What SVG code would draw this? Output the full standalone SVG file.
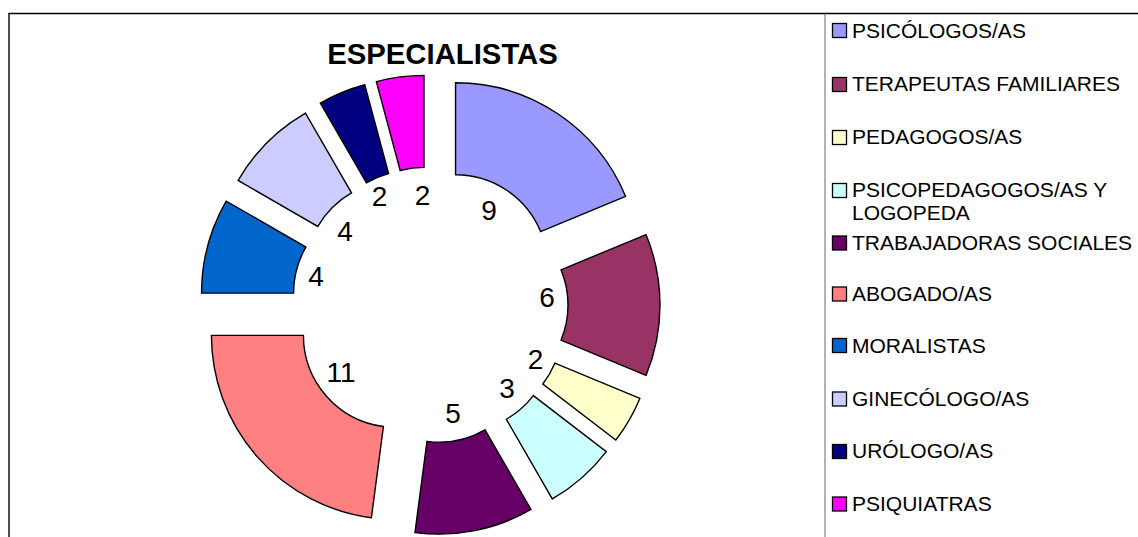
<svg xmlns="http://www.w3.org/2000/svg" width="1138" height="537" viewBox="0 0 1138 537">
<style>
.sl{stroke:#000;stroke-width:1.4;stroke-linejoin:miter}
.lab{font-family:"Liberation Sans",Arial,sans-serif;font-size:28px;fill:#000;text-anchor:middle}
.leg{font-family:"Liberation Sans",Arial,sans-serif;font-size:21px;fill:#000}
.sw{stroke:#000;stroke-width:1.3}
.ttl{font-family:"Liberation Sans",Arial,sans-serif;font-size:29.3px;font-weight:bold;fill:#000;text-anchor:middle}
</style>
<rect x="0" y="0" width="1138" height="537" fill="#fff"/>
<g id="frame" fill="none">
<line x1="8.5" y1="13.5" x2="1138" y2="13.5" stroke="#000" stroke-width="1.3"/>
<line x1="9" y1="13" x2="9" y2="537" stroke="#222" stroke-width="1.6"/>
<line x1="825" y1="14" x2="825" y2="537" stroke="#808080" stroke-width="1.2"/>
</g>
<text id="title" class="ttl" x="442.5" y="64">ESPECIALISTAS</text>
<g id="slices">
<g id="s-psicologos"><path class="sl" fill="#9999FF" d="M455.56 82.75 A184 184 0 0 1 625.55 196.34 L540.56 231.54 A92 92 0 0 0 455.56 174.75 Z"/></g>
<g id="s-terapeutas"><path class="sl" fill="#993366" d="M646.0 234.59 A184 184 0 0 1 646.0 375.41 L561.0 340.21 A92 92 0 0 0 561.0 269.79 Z"/></g>
<g id="s-pedagogos"><path class="sl" fill="#FFFFCC" d="M639.84 398.41 A184 184 0 0 1 615.82 440.01 L542.83 384.01 A92 92 0 0 0 554.84 363.21 Z"/></g>
<g id="s-psicopedagogos"><path class="sl" fill="#CCFFFF" d="M606.31 451.59 A184 184 0 0 1 552.33 498.93 L506.33 419.25 A92 92 0 0 0 533.32 395.59 Z"/></g>
<g id="s-trabajadoras"><path class="sl" fill="#660066" d="M530.97 509.47 A184 184 0 0 1 414.95 532.54 L426.96 441.33 A92 92 0 0 0 484.97 429.79 Z"/></g>
<g id="s-abogados"><path class="sl" fill="#FF8080" d="M371.40 517.75 A184 184 0 0 1 211.42 335.33 L303.42 335.33 A92 92 0 0 0 383.41 426.54 Z"/></g>
<g id="s-moralistas"><path class="sl" fill="#0066CC" d="M201.57 293.09 A184 184 0 0 1 226.22 201.09 L305.90 247.09 A92 92 0 0 0 293.57 293.09 Z"/></g>
<g id="s-ginecologos"><path class="sl" fill="#CCCCFF" d="M238.12 180.47 A184 184 0 0 1 305.47 113.12 L351.47 192.80 A92 92 0 0 0 317.80 226.47 Z"/></g>
<g id="s-urologos"><path class="sl" fill="#000080" d="M320.40 103.15 A184 184 0 0 1 364.78 84.77 L388.59 173.63 A92 92 0 0 0 366.40 182.83 Z"/></g>
<g id="s-psiquiatras"><path class="sl" fill="#FF00FF" d="M376.38 81.66 A184 184 0 0 1 424.00 75.39 L424.00 167.39 A92 92 0 0 0 400.19 170.52 Z"/></g>
</g>
<g id="data-labels">
<text class="lab" x="489" y="220">9</text>
<text class="lab" x="547" y="307">6</text>
<text class="lab" x="535.5" y="369">2</text>
<text class="lab" x="507" y="398">3</text>
<text class="lab" x="453" y="422.5">5</text>
<text class="lab" x="341" y="381.5">11</text>
<text class="lab" x="316" y="286">4</text>
<text class="lab" x="345" y="240.5">4</text>
<text class="lab" x="379.5" y="206">2</text>
<text class="lab" x="422.5" y="205">2</text>
</g>
<g id="legend">
<g id="l1"><rect class="sw" x="832.5" y="23.5" width="14" height="14" fill="#9999FF"/><text class="leg" x="852" y="37.5">PSICÓLOGOS/AS</text></g>
<g id="l2"><rect class="sw" x="832.5" y="77.5" width="14" height="14" fill="#993366"/><text class="leg" x="852" y="91">TERAPEUTAS FAMILIARES</text></g>
<g id="l3"><rect class="sw" x="832.5" y="130.5" width="14" height="14" fill="#FFFFCC"/><text class="leg" x="852" y="144">PEDAGOGOS/AS</text></g>
<g id="l4"><rect class="sw" x="832.5" y="183.5" width="14" height="14" fill="#CCFFFF"/><text class="leg" x="852" y="197">PSICOPEDAGOGOS/AS Y</text><text class="leg" x="852" y="220">LOGOPEDA</text></g>
<g id="l5"><rect class="sw" x="832.5" y="236" width="14" height="14" fill="#660066"/><text class="leg" x="852" y="249.5">TRABAJADORAS SOCIALES</text></g>
<g id="l6"><rect class="sw" x="832.5" y="287" width="14" height="14" fill="#FF8080"/><text class="leg" x="852" y="300.5">ABOGADO/AS</text></g>
<g id="l7"><rect class="sw" x="832.5" y="338.5" width="14" height="14" fill="#0066CC"/><text class="leg" x="852" y="352.5">MORALISTAS</text></g>
<g id="l8"><rect class="sw" x="832.5" y="392" width="14" height="14" fill="#CCCCFF"/><text class="leg" x="852" y="405.5">GINECÓLOGO/AS</text></g>
<g id="l9"><rect class="sw" x="832.5" y="444.5" width="14" height="14" fill="#000080"/><text class="leg" x="852" y="458">URÓLOGO/AS</text></g>
<g id="l10"><rect class="sw" x="832.5" y="497" width="14" height="14" fill="#FF00FF"/><text class="leg" x="852" y="510.5">PSIQUIATRAS</text></g>
</g>
</svg>
